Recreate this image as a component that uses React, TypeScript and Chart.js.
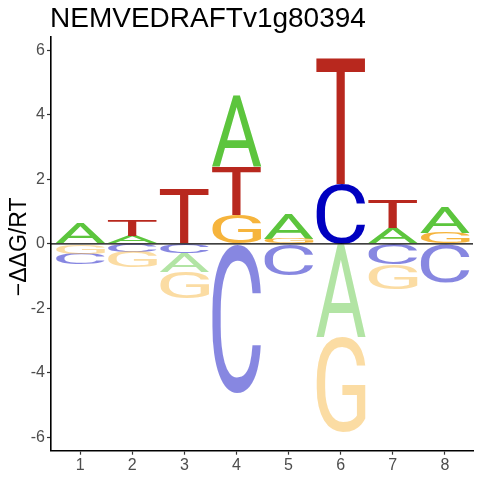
import React, { useEffect, useRef } from "react";
import { Chart, registerables } from "chart.js";

Chart.register(...registerables);

const TITLE = "NEMVEDRAFTv1g80394";
const Y_LABEL = "\u2212\u0394\u0394G/RT";
const positions = [1, 2, 3, 4, 5, 6, 7, 8];
const letters = ["A", "C", "G", "T"];
const valuesA = [0.65, 0.24, -0.58, 2.23, 0.8, -2.9, 0.5, 0.82];
const valuesC = [-0.33, -0.25, -0.3, -4.62, -0.98, 1.87, -0.64, -1.19];
const valuesG = [-0.31, -0.49, -0.82, 0.88, 0.16, -2.94, -0.77, 0.34];
const valuesT = [0, 0.5, 1.7, 1.5, 0, 3.95, 0.87, 0];
const letterColors = ["#5CC53D", "#0000C0", "#F6B43C", "#B8281E"];
const yTickStep = 2;

const FONT = "'Liberation Sans', Arial, sans-serif";
const GLYPH_FONT = "400 100px Roboto, 'Liberation Sans', sans-serif";
const NEG_ALPHA = 0.47;

function stackRanges(): (number[] | null)[][] {
  const all = [valuesA, valuesC, valuesG, valuesT];
  const out: (number[] | null)[][] = all.map(() => positions.map(() => null));
  positions.forEach((_, i) => {
    const entries = all.map((vals, li) => ({ li, v: vals[i] })).filter((e) => e.v !== 0);
    const pos = entries.filter((e) => e.v > 0).sort((a, b) => a.v - b.v);
    const neg = entries.filter((e) => e.v < 0).sort((a, b) => Math.abs(a.v) - Math.abs(b.v));
    let cum = 0;
    pos.forEach((e) => {
      out[e.li][i] = [cum, cum + e.v];
      cum += e.v;
    });
    cum = 0;
    neg.forEach((e) => {
      out[e.li][i] = [cum + e.v, cum];
      cum += e.v;
    });
  });
  return out;
}

const logoPlugin = {
  id: "logoPlugin",
  afterDatasetsDraw(chart: any) {
    const ctx = chart.ctx as CanvasRenderingContext2D;
    chart.data.datasets.forEach((ds: any, di: number) => {
      const meta = chart.getDatasetMeta(di);
      const letter = letters[di];
      ctx.save();
      ctx.font = GLYPH_FONT;
      const m = ctx.measureText(letter);
      const gl = m.actualBoundingBoxLeft;
      const ga = m.actualBoundingBoxAscent;
      const gw = m.actualBoundingBoxLeft + m.actualBoundingBoxRight;
      const gh = m.actualBoundingBoxAscent + m.actualBoundingBoxDescent;
      meta.data.forEach((el: any, j: number) => {
        const { x, y, base, width } = el.getProps(["x", "y", "base", "width"], true);
        const top = Math.min(y, base);
        const h = Math.abs(base - y);
        if (h < 0.2) return;
        const raw = ds.data[j].y as number[];
        const negative = raw[1] <= 0;
        ctx.save();
        ctx.globalAlpha = negative ? NEG_ALPHA : 1;
        ctx.fillStyle = letterColors[di];
        ctx.translate(x - width / 2, top);
        ctx.scale(width / gw, h / gh);
        ctx.textAlign = "left";
        ctx.textBaseline = "alphabetic";
        ctx.fillText(letter, gl, ga);
        ctx.restore();
      });
      ctx.restore();
    });
    const ys = chart.scales.y;
    const y0 = ys.getPixelForValue(0);
    const area = chart.chartArea;
    ctx.save();
    ctx.strokeStyle = "#000";
    ctx.lineWidth = 1.2;
    ctx.beginPath();
    ctx.moveTo(area.left, y0);
    ctx.lineTo(area.right, y0);
    ctx.stroke();
    ctx.restore();
  },
  afterDraw(chart: any) {
    const ctx = chart.ctx as CanvasRenderingContext2D;
    const area = chart.chartArea;
    ctx.save();
    ctx.fillStyle = "#000";
    ctx.font = `28px ${FONT}`;
    ctx.textAlign = "left";
    ctx.textBaseline = "alphabetic";
    ctx.fillText(TITLE, area.left - 1, 27);
    ctx.translate(26, (area.top + area.bottom) / 2 + 3);
    ctx.rotate(-Math.PI / 2);
    ctx.font = `23px ${FONT}`;
    ctx.textAlign = "center";
    ctx.fillText(Y_LABEL, 0, 0);
    ctx.restore();
  },
};

export default function App() {
  const ref = useRef<HTMLCanvasElement | null>(null);
  useEffect(() => {
    if (!ref.current) return;
    const ranges = stackRanges();
    const datasets = letters.map((l, li) => ({
      label: l,
      data: positions
        .map((p, i) => (ranges[li][i] ? { x: p, y: ranges[li][i] as number[] } : null))
        .filter((d) => d !== null),
      backgroundColor: "rgba(0,0,0,0)",
      borderWidth: 0,
      grouped: false,
      categoryPercentage: 1,
      barPercentage: 0.95,
    }));
    const tickFont = { family: FONT, size: 16 };
    const chart = new Chart(ref.current, {
      type: "bar",
      data: { datasets: datasets as any },
      plugins: [logoPlugin],
      options: {
        animation: false,
        responsive: false,
        maintainAspectRatio: false,
        layout: { padding: { top: 37, right: 7, left: 0, bottom: 0 } },
        plugins: { legend: { display: false }, tooltip: { enabled: false }, title: { display: false } },
        scales: {
          x: {
            type: "linear",
            min: 0.44,
            max: 8.54,
            offset: false,
            ticks: { stepSize: 1, includeBounds: false, color: "#4D4D4D", font: tickFont, padding: 1, maxRotation: 0 },
            grid: { display: true, offset: false, drawOnChartArea: false, drawTicks: true, tickLength: 4, tickColor: "#333333", tickWidth: 1.2 },
            border: { display: true, color: "#000", width: 1.6 },
            afterFit: (s: any) => {
              s.height = 29.3;
            },
          },
          y: {
            type: "linear",
            min: -6.42,
            max: 6.42,
            ticks: { stepSize: yTickStep, includeBounds: false, color: "#4D4D4D", font: tickFont, padding: 2 },
            grid: { display: true, drawOnChartArea: false, drawTicks: true, tickLength: 4, tickColor: "#333333", tickWidth: 1.2 },
            border: { display: true, color: "#000", width: 1.6 },
            afterFit: (s: any) => {
              s.width = 51;
            },
          },
        },
      } as any,
    });
    return () => chart.destroy();
  }, []);
  return (
    <div style={{ position: "absolute", left: 0, top: 0, width: 480, height: 480, background: "#fff" }}>
      <canvas ref={ref} width={480} height={480} style={{ display: "block" }} />
    </div>
  );
}
